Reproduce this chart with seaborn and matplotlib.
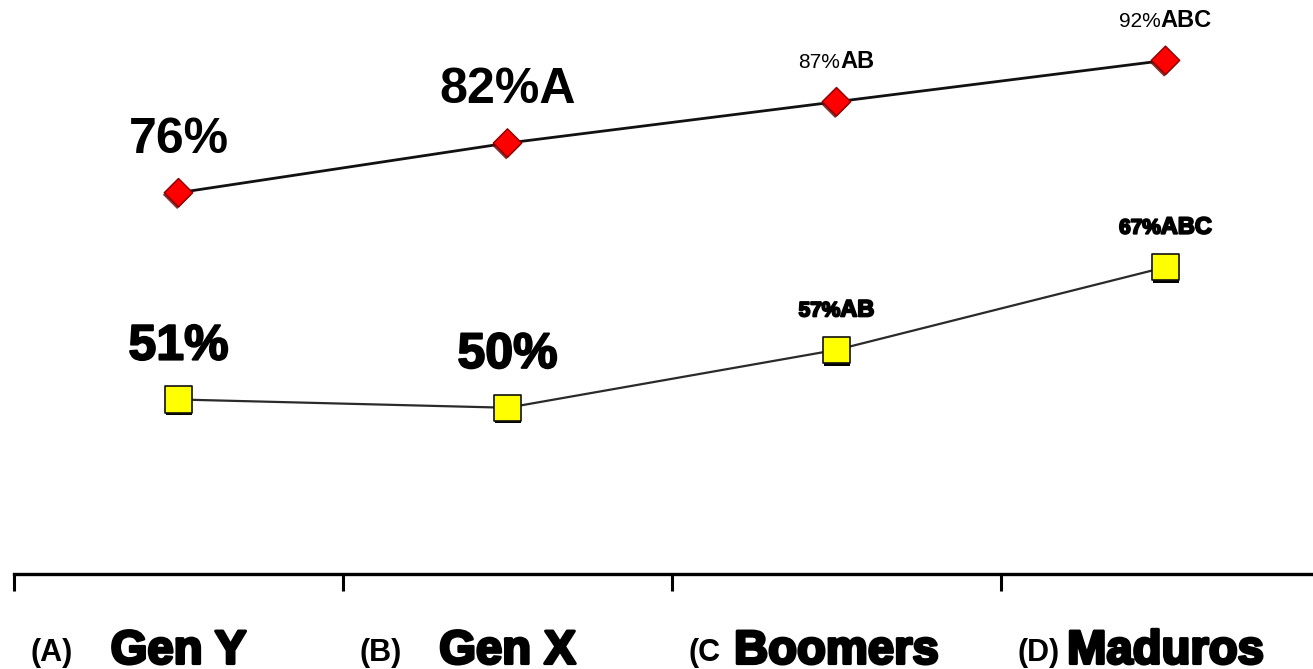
import matplotlib
matplotlib.use("Agg")
import matplotlib.pyplot as plt
import matplotlib.patheffects as pe
import matplotlib.transforms as mtransforms
from matplotlib.offsetbox import TextArea, HPacker, AnnotationBbox
import numpy as np
import seaborn as sns

# Generations on the x axis and the prefix tag shown before each name
categories = ["Gen Y", "Gen X", "Boomers", "Maduros"]
group_tags = ["(A)", "(B)", "(C", "(D)"]

# Upper series (red diamonds): percentage and significance letters
high_pct = [76, 82, 87, 92]
high_sig = ["", "A", "AB", "ABC"]

# Lower series (yellow squares): percentage and significance letters
low_pct = [51, 50, 57, 67]
low_sig = ["", "", "AB", "ABC"]

sns.set_theme(style="white")
plt.rcParams["font.family"] = ["Liberation Sans", "DejaVu Sans"]

fig = plt.figure(figsize=(13.13, 6.69), dpi=100)
ax = fig.add_axes([14 / 1313, 95 / 669, 1316 / 1313, 574 / 669])
x = np.arange(len(categories))

# connecting lines
sns.lineplot(x=x, y=high_pct, ax=ax, color="#111111", lw=2.0, zorder=2)
sns.lineplot(x=x, y=low_pct, ax=ax, color="#2a2a2a", lw=1.6, zorder=2)

# markers with a small drop shadow
sns.scatterplot(x=x, y=high_pct, ax=ax, marker="D", s=14.5 ** 2, color="#ff0000",
                edgecolor="#8a0000", linewidth=1.0, zorder=3,
                path_effects=[pe.SimplePatchShadow(offset=(-1, -1.5), shadow_rgbFace="#6a0000", alpha=0.8),
                              pe.Normal()])
sns.scatterplot(x=x, y=low_pct, ax=ax, marker="s", s=19 ** 2, color="#ffff00",
                edgecolor="#111111", linewidth=1.2, zorder=3,
                path_effects=[pe.SimplePatchShadow(offset=(0.5, -1.8), shadow_rgbFace="black", alpha=1.0),
                              pe.Normal()])


def value_label(xi, v, sig, big, heavy):
    stroke = [pe.withStroke(linewidth=1.4, foreground="black")] if heavy else []
    if big:
        box = TextArea(f"{v}%{sig}", textprops=dict(fontsize=36, fontweight="bold",
                                                     color="black", path_effects=stroke))
        off = 21.5
    else:
        num = TextArea(f"{v}%", textprops=dict(fontsize=15, color="black",
                                               fontweight="bold" if heavy else "normal",
                                               path_effects=stroke))
        let = TextArea(sig, textprops=dict(fontsize=17, fontweight="bold", color="black",
                                           path_effects=stroke))
        box = HPacker(children=[num, let], align="baseline", pad=0, sep=0)
        off = 20.5
    ab = AnnotationBbox(box, (xi, v), xybox=(0, off), xycoords="data",
                        boxcoords="offset points", box_alignment=(0.5, 0),
                        frameon=False, pad=0, zorder=4)
    ax.add_artist(ab)


for i in range(len(categories)):
    value_label(x[i], high_pct[i], high_sig[i], big=i < 2, heavy=False)
    value_label(x[i], low_pct[i], low_sig[i], big=i < 2, heavy=True)

ax.set_xlim(-0.5, 3.5)
ax.set_ylim(29.9, 99.3)

# category boundaries as major ticks, names as minor tick labels
ax.set_xticks(np.arange(len(categories) + 1) - 0.5)
ax.set_xticklabels([])
ax.set_xticks(x, minor=True)
ax.set_xticklabels(categories, minor=True, fontsize=34, fontweight="bold", color="black")
for lbl in ax.get_xticklabels(minor=True):
    lbl.set_path_effects([pe.withStroke(linewidth=2.2, foreground="black")])
ax.tick_params(axis="x", which="major", direction="out", length=12, width=2.2,
               color="black", bottom=True)
ax.tick_params(axis="x", which="minor", length=0, pad=40, bottom=True, labelcolor="black")
ax.set_yticks([])

blend = mtransforms.blended_transform_factory(ax.transData, ax.transAxes)
for i, tag in enumerate(group_tags):
    ax.text(x[i] - 0.45, -0.152, tag, transform=blend, ha="left", va="baseline",
            fontsize=22, fontweight="bold", color="black")

for side in ["left", "right", "top"]:
    ax.spines[side].set_visible(False)
ax.spines["bottom"].set_linewidth(2.4)
ax.spines["bottom"].set_color("black")
ax.set_facecolor("white")
fig.patch.set_facecolor("white")
ax.grid(False)

fig.savefig("out.png", dpi=100, facecolor="white")
